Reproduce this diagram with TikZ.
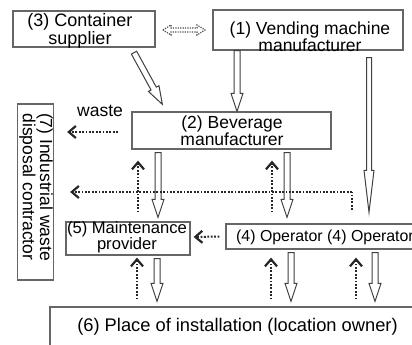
\documentclass[tikz,border=0pt]{standalone}
\usepackage{fontspec}
\setmainfont{Liberation Sans}
\usetikzlibrary{calc,arrows.meta}
\tikzset{
  box/.style={draw=black!60, line width=1.3pt, fill=white, inner sep=0pt, rectangle},
  lbl/.style={font=\fontsize{17.5}{16}\selectfont, align=center, inner sep=0pt},
  dotarr/.style={draw=black!85, line width=2pt, dash pattern=on 1.8pt off 1.6pt,
    -{Straight Barb[length=7pt,width=12pt,line width=2.2pt]}},
  dotline/.style={draw=black!85, line width=2pt, dash pattern=on 1.8pt off 1.6pt},
  hol/.style={draw=black!75, line width=1pt, fill=white, line join=miter},
}
% hollow arrow: start, end, shaft half width, head half width, head length
\newcommand\hollowarr[5]{%
  \coordinate (hc) at ($(#2)!#5!(#1)$);
  \draw[hol] ($(#1)!#3!90:(#2)$) -- ($(hc)!#3!-90:(#1)$) -- ($(hc)!#4!-90:(#1)$) -- (#2)
    -- ($(hc)!#4!90:(#1)$) -- ($(hc)!#3!90:(#1)$) -- ($(#1)!#3!-90:(#2)$) -- cycle;
}
\begin{document}
\begin{tikzpicture}[x=1pt,y=-1pt]
\useasboundingbox (0,0) rectangle (412,345);
\clip (0,0) rectangle (412,345);
\fill[white] (0,0) rectangle (412,345);

% boxes
\node[box, minimum width=142pt, minimum height=36pt] (cs) at (84,29) {};
\node[box, minimum width=190pt, minimum height=40pt] (vm) at (308,30) {};
\node[box, minimum width=199pt, minimum height=37pt] (bm) at (231.5,130.5) {};
\node[box, minimum width=36pt, minimum height=176pt] (iw) at (35.5,192) {};
\node[box, minimum width=124pt, minimum height=33pt] (mp) at (128,238.5) {};
\node[box, minimum width=204pt, minimum height=25pt] (op) at (328,236.5) {};
\node[box, minimum width=380pt, minimum height=63pt] (pl) at (240,338.5) {};

% labels
\node[lbl, font=\fontsize{18}{16}\selectfont] (tcs) at (80,31) {(3) Container\\supplier};
\node[lbl] (tvm) at (310,37) {(1) Vending machine\\manufacturer};
\node[lbl] (tbm) at (232,131) {(2) Beverage\\manufacturer};
\node[lbl, rotate=-90] (tiw) at (36,187) {(7) Industrial waste\\disposal contractor};
\node[lbl, font=\fontsize{16.6}{16}\selectfont] (tmp) at (127,237) {(5) Maintenance\\provider};
\node[lbl, anchor=west, font=\fontsize{15.9}{16}\selectfont] (top) at (236,237) {(4) Operator (4) Operator};
\node[lbl, font=\fontsize{18.3}{16}\selectfont] (tpl) at (237.5,327) {(6) Place of installation (location owner)};
\node[lbl] (tw) at (100,111) {waste};

% dotted double hollow arrow between cs and vm
\draw[draw=black!70, line width=1.2pt, dash pattern=on 1.2pt off 1.2pt]
  (163,30) -- (171,25) -- (171,28) -- (197,28) -- (197,25) -- (205,30)
  -- (197,35) -- (197,32) -- (171,32) -- (171,35) -- cycle;

% hollow arrows
\coordinate (a1) at ($(cs.south)+(50,5)$);
\coordinate (b1) at ($(bm.north west)+(31,-7)$);
\hollowarr{a1}{b1}{3pt}{6pt}{18pt}
\coordinate (a2) at (237,0 |- vm.south);
\coordinate (b2) at (237,0 |- bm.north);
\hollowarr{a2}{b2}{3pt}{6pt}{18pt}
\coordinate (a3) at ($(369,0 |- vm.south)+(0,7)$);
\coordinate (b3) at ($(369,0 |- op.north)+(0,-11)$);
\hollowarr{a3}{b3}{2.5pt}{5pt}{42pt}
\coordinate (a4) at ($(158,0 |- bm.south)+(0,3)$);
\coordinate (b4) at ($(158,0 |- mp.north)+(0,-4)$);
\hollowarr{a4}{b4}{3pt}{6pt}{18pt}
\coordinate (a5) at ($(287,0 |- bm.south)+(0,3)$);
\coordinate (b5) at ($(287,0 |- op.north)+(0,-6)$);
\hollowarr{a5}{b5}{3pt}{6pt}{18pt}
\coordinate (a6) at ($(157,0 |- mp.south)+(0,3)$);
\coordinate (b6) at ($(157,0 |- pl.north)+(0,-5)$);
\hollowarr{a6}{b6}{3pt}{6pt}{18pt}
\coordinate (a7) at ($(291,0 |- op.south)+(0,3)$);
\coordinate (b7) at ($(291,0 |- pl.north)+(0,-5)$);
\hollowarr{a7}{b7}{3pt}{6pt}{18pt}
\coordinate (a8) at ($(375,0 |- op.south)+(0,3)$);
\coordinate (b8) at ($(375,0 |- pl.north)+(0,-5)$);
\hollowarr{a8}{b8}{3pt}{6pt}{18pt}

% dotted arrows
\coordinate (w1) at (118,132);
\coordinate (w2) at ($(iw.east)+(13,-60)$);
\draw[dotarr] (w1) -- (w2);
\coordinate (l1) at (352,210);
\coordinate (l2) at (352,192);
\coordinate (l3) at ($(iw.east)+(16,0)$);
\draw[dotline] (l1) -- (l2);
\draw[dotarr] (l2) -- (l3);
\coordinate (u1) at ($(138,0 |- mp.north)+(0,-9)$);
\coordinate (v1) at ($(138,0 |- bm.south)+(0,11)$);
\draw[dotarr] (u1) -- (v1);
\coordinate (u2) at ($(272,0 |- op.north)+(0,-11)$);
\coordinate (v2) at ($(272,0 |- bm.south)+(0,11)$);
\draw[dotarr] (u2) -- (v2);
\coordinate (o1) at ($(op.west)+(-6,0)$);
\coordinate (o2) at ($(mp.east)+(3,-1.5)$);
\draw[dotarr] (o1) -- (o2);
\coordinate (u3) at ($(137,0 |- pl.north)+(0,-7)$);
\coordinate (v3) at ($(137,0 |- mp.south)+(0,2)$);
\draw[dotarr] (u3) -- (v3);
\coordinate (u4) at ($(271,0 |- pl.north)+(0,-7)$);
\coordinate (v4) at ($(271,0 |- op.south)+(0,8)$);
\draw[dotarr] (u4) -- (v4);
\coordinate (u5) at ($(356,0 |- pl.north)+(0,-7)$);
\coordinate (v5) at ($(356,0 |- op.south)+(0,8)$);
\draw[dotarr] (u5) -- (v5);
\end{tikzpicture}
\end{document}
